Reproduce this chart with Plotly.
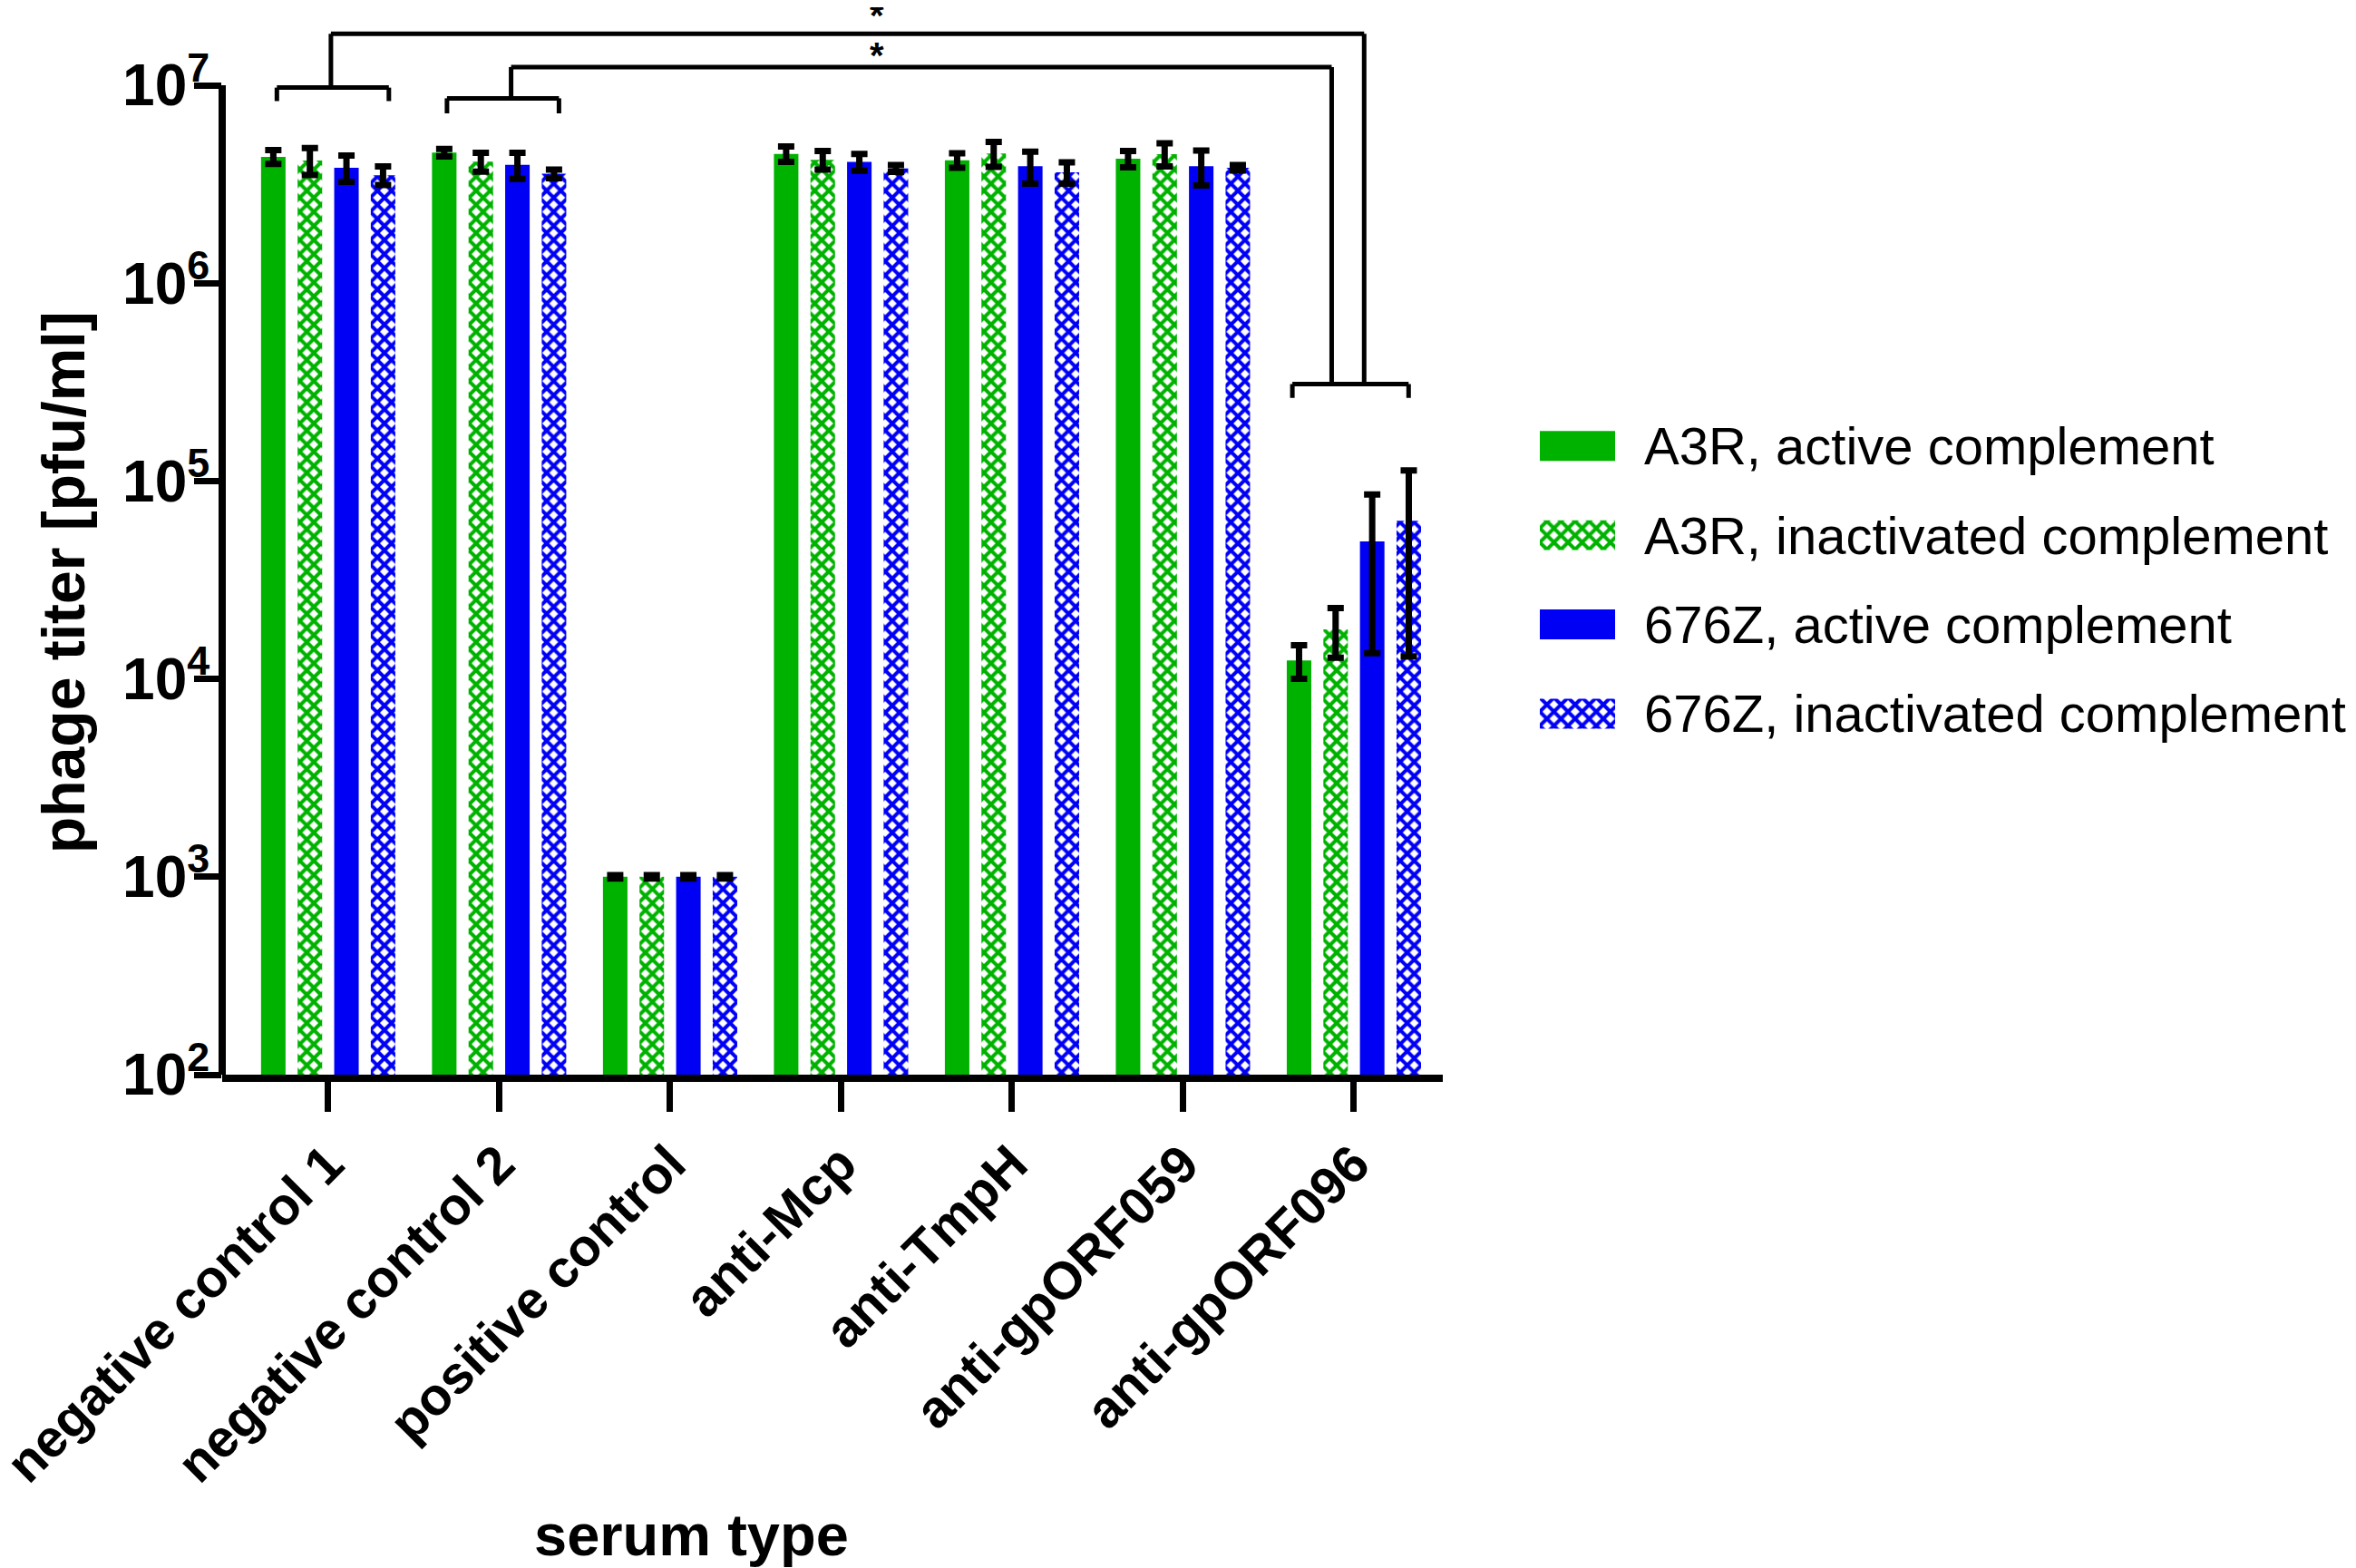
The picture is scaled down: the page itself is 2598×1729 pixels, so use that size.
import plotly.graph_objects as go

# ---------------- data ----------------
categories = ["negative control 1", "negative control 2", "positive control",
              "anti-Mcp", "anti-TmpH", "anti-gpORF059", "anti-gpORF096"]
series_names = ["A3R, active complement", "A3R, inactivated complement",
                "676Z, active complement", "676Z, inactivated complement"]

a3r_active = [4.35e6, 4.57e6, 1.0e3, 4.5e6, 4.18e6, 4.25e6, 1.24e4]
a3r_active_sd = [0.35e6, 0.20e6, 0.02e3, 0.40e6, 0.35e6, 0.40e6, 2.4e3]
a3r_inact = [4.17e6, 4.11e6, 1.0e3, 4.2e6, 4.52e6, 4.49e6, 1.78e4]
a3r_inact_sd = [0.65e6, 0.45e6, 0.02e3, 0.45e6, 0.65e6, 0.60e6, 5.0e3]
z676_active = [3.83e6, 3.96e6, 1.0e3, 4.1e6, 3.90e6, 3.90e6, 4.95e4]
z676_active_sd = [0.58e6, 0.60e6, 0.02e3, 0.40e6, 0.72e6, 0.78e6, 3.6e4]
z676_inact = [3.51e6, 3.57e6, 1.0e3, 3.8e6, 3.63e6, 3.83e6, 6.3e4]
z676_inact_sd = [0.38e6, 0.18e6, 0.02e3, 0.15e6, 0.45e6, 0.12e6, 5.0e4]

y_tickvals = [1e2, 1e3, 1e4, 1e5, 1e6, 1e7]
y_ticktext = ["10<sup>2</sup>", "10<sup>3</sup>", "10<sup>4</sup>",
              "10<sup>5</sup>", "10<sup>6</sup>", "10<sup>7</sup>"]

# ---------------- styles ----------------
GREEN = "#00B200"
BLUE = "#0000F5"
FONT = "Liberation Sans"
series_values = [a3r_active, a3r_inact, z676_active, z676_inact]
series_sd = [a3r_active_sd, a3r_inact_sd, z676_active_sd, z676_inact_sd]
series_colors = [GREEN, GREEN, BLUE, BLUE]
series_patterns = ["", "x", "", "x"]
PAT_SIZE, PAT_SOLID = 11, 0.6

# page has an 8px body margin: the figure is sized to fit the window exactly
PAGE_OFF = 8
W, H = 2598 - PAGE_OFF, 1729 - PAGE_OFF
PLOT_LEFT, PLOT_RIGHT, PLOT_BOTTOM = 245, 1591, 1185   # page pixels of the main plot
ML = PLOT_LEFT - PAGE_OFF
MR = 30
MT = 0
PW = W - ML - MR
PH = PLOT_BOTTOM - PAGE_OFF
MB = H - PH
main_dom = (PLOT_RIGHT - PLOT_LEFT) / PW
DECADE = 218.2
y_top = 7 + (94 - PAGE_OFF) / DECADE


def px_x(page_x):
    return (page_x - PLOT_LEFT) / PW


def px_y(page_y):
    return (PLOT_BOTTOM - page_y) / PH


def marker_for(col, pat):
    return dict(color=col if pat == "" else "white", line=dict(width=0),
                pattern=dict(shape=pat, fgcolor=col, bgcolor="white", fgopacity=1,
                             size=PAT_SIZE, solidity=PAT_SOLID, fillmode="replace"))


fig = go.Figure()
for name, vals, sd, col, pat in zip(series_names, series_values, series_sd,
                                     series_colors, series_patterns):
    fig.add_trace(go.Bar(
        x=categories, y=vals, name=name, showlegend=False,
        marker=marker_for(col, pat),
        error_y=dict(type="data", array=sd, visible=True, color="black",
                     thickness=7, width=9),
        xaxis="x", yaxis="y"))

# custom legend swatches: one horizontal bar per series on its own axes
for i, (name, col, pat) in enumerate(zip(series_names, series_colors, series_patterns)):
    fig.add_trace(go.Bar(
        y=[i], x=[1], orientation="h", width=0.335, offset=-0.1675,
        showlegend=False, hoverinfo="skip", name=name,
        marker=marker_for(col, pat), xaxis="x2", yaxis="y2"))

annotations = []
for i, name in enumerate(series_names):
    annotations.append(dict(x=px_x(1811), xref="paper", y=i, yref="y2",
                            text=name, showarrow=False, xanchor="left", yanchor="middle",
                            font=dict(family=FONT, size=58, color="black")))

# axis titles
annotations.append(dict(x=px_x(70), xref="paper", y=px_y(642), yref="paper",
                        text="phage titer [pfu/ml]", textangle=-90, showarrow=False,
                        xanchor="center", yanchor="middle",
                        font=dict(family=FONT, size=66, color="black", weight="bold")))
annotations.append(dict(x=px_x(762), xref="paper", y=px_y(1692), yref="paper",
                        text="serum type", showarrow=False, xanchor="center", yanchor="middle",
                        font=dict(family=FONT, size=65, color="black", weight="bold")))

# significance asterisks
annotations.append(dict(x=3.21, xref="x", y=1, yref="paper", text="*", showarrow=False,
                        xanchor="center", yanchor="top", yshift=15,
                        font=dict(family=FONT, size=40, color="black", weight="bold")))
annotations.append(dict(x=3.21, xref="x", y=7.15, yref="y", text="*", showarrow=False,
                        xanchor="center", yanchor="middle",
                        font=dict(family=FONT, size=40, color="black", weight="bold")))

# brackets
LW = 5
shapes = []


def seg(x0, y0, x1, y1):
    shapes.append(dict(type="line", xref="x", yref="y", x0=x0, y0=y0, x1=x1, y1=y1,
                       line=dict(color="black", width=LW)))


def bracket(xl, xr, yh, ye):
    seg(xl, 10 ** yh, xr, 10 ** yh)
    seg(xl, 10 ** yh, xl, 10 ** ye)
    seg(xr, 10 ** yh, xr, 10 ** ye)


bracket(-0.30, 0.355, 6.988, 6.92)
bracket(0.695, 1.35, 6.934, 6.858)
bracket(5.64, 6.32, 5.49, 5.42)
# connector lines
seg(0.016, 10 ** 6.988, 0.016, 10 ** 7.26)
seg(0.016, 10 ** 7.26, 6.06, 10 ** 7.26)
seg(6.06, 10 ** 7.26, 6.06, 10 ** 5.49)
seg(1.07, 10 ** 6.934, 1.07, 10 ** 7.092)
seg(1.07, 10 ** 7.092, 5.87, 10 ** 7.092)
seg(5.87, 10 ** 7.092, 5.87, 10 ** 5.49)

# y axis line only from 10^2 to 10^7
shapes.append(dict(type="line", xref="x domain", yref="y", x0=0, x1=0, y0=1e2, y1=1e7,
                   line=dict(color="black", width=8)))

fig.update_layout(
    width=W, height=H,
    margin=dict(l=ML, r=MR, t=MT, b=MB, autoexpand=False),
    paper_bgcolor="white", plot_bgcolor="white",
    barmode="group", bargap=0.144, bargroupgap=0.33,
    showlegend=False,
    xaxis=dict(domain=[0, main_dom], range=[-0.62, 6.52], type="category",
               showline=True, linewidth=8, linecolor="black", automargin=False,
               ticks="outside", ticklen=33, tickwidth=7, tickcolor="black",
               tickangle=-45, showgrid=False, zeroline=False,
               tickfont=dict(family=FONT, size=58, color="black", weight="bold")),
    yaxis=dict(type="log", range=[2, y_top], tickvals=y_tickvals, ticktext=y_ticktext,
               showline=False, showgrid=False, zeroline=False, automargin=False,
               ticks="outside", ticklen=30, tickwidth=7, tickcolor="black",
               ticklabelstandoff=-30,
               tickfont=dict(family=FONT, size=64, color="black", weight="bold")),
    xaxis2=dict(domain=[px_x(1698), px_x(1781)], range=[0, 1], anchor="y2",
                visible=False, fixedrange=True),
    yaxis2=dict(domain=[px_y(836.2), px_y(442.5)],
                range=[3.5, -0.5], anchor="x2", visible=False, fixedrange=True),
    annotations=annotations,
    shapes=shapes,
)

fig.write_html("out.html")
